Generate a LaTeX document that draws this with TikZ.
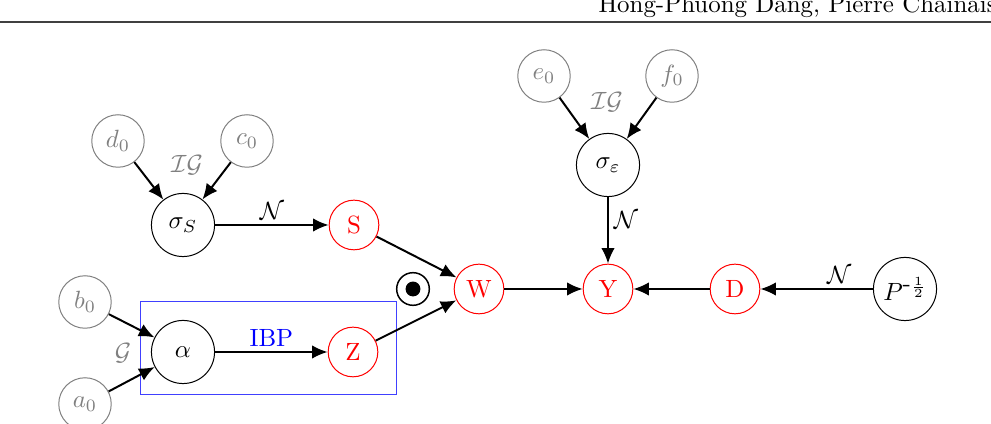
\documentclass[tikz,border=0pt]{standalone}
\usetikzlibrary{positioning, arrows.meta}

\begin{document}
\begin{tikzpicture}[
    x=0.0141cm, y=-0.0141cm,
    var/.style={draw, circle, thin, inner sep=0pt, minimum size=7mm},
    obs/.style={var, red, text=red},
    hyper/.style={var, gray, text=gray, minimum size=7.4mm},
    param/.style={var, minimum size=8.9mm},
    dep/.style={-{Latex[length=2.2mm, width=1.9mm]}, thick},
    lbl/.style={inner sep=2pt},
  ]
    \useasboundingbox (0,0) rectangle (991,424);
    % page header
    \draw[line width=0.5pt, black!75] (0,22) -- (991,22);
    \node[anchor=base west, inner sep=0pt] (head) at (598,13) {Hong-Phuong Dang, Pierre Chainais};
    % hyperparameters
    \node[hyper] (dzero) at (118,141) {$d_0$};
    \node[hyper] (czero) at (247,141) {$c_0$};
    \node[hyper] (ezero) at (544,76)  {$e_0$};
    \node[hyper] (fzero) at (672,76)  {$f_0$};
    \node[hyper] (bzero) at (85,302)  {$b_0$};
    \node[hyper] (azero) at (85,404)  {$a_0$};
    % parameters
    \node[param] (sigS)  at (183,225) {$\sigma_S$};
    \node[param] (sigE)  at (608,165) {$\sigma_{\varepsilon}$};
    \node[param] (alpha) at (183,352) {$\alpha$};
    \node[param] (P)     at (905,289) {$P^{\mbox{-}\frac{1}{2}}$};
    % observed / latent
    \node[obs] (S) at (354,225) {S};
    \node[obs] (Z) at (353,352) {Z};
    \node[obs] (W) at (479,289) {W};
    \node[obs] (Y) at (608,289) {Y};
    \node[obs] (D) at (735,289) {D};
    % product sign
    \node[draw, circle, semithick, inner sep=0pt, minimum size=4.6mm] (prod) at (413,289) {};
    \fill (prod.center) circle (1.05mm);
    % distribution labels
    \node[lbl, gray] (igS) at (187,165) {$\mathcal{IG}$};
    \node[lbl, gray] (igE) at (607,102) {$\mathcal{IG}$};
    \node[lbl, gray] (gA)  at (123,353) {$\mathcal{G}$};
    % IBP box
    \draw[blue!75, thin] (140,302) rectangle (396,395);
    % edges
    \draw[dep] (dzero) -- (sigS);
    \draw[dep] (czero) -- (sigS);
    \draw[dep] (ezero) -- (sigE);
    \draw[dep] (fzero) -- (sigE);
    \draw[dep] (bzero) -- (alpha);
    \draw[dep] (azero) -- (alpha);
    \draw[dep] (sigS) -- node[lbl, above]{$\mathcal{N}$} (S);
    \draw[dep] (alpha) -- node[lbl, above, blue]{IBP} (Z);
    \draw[dep] (S) -- (W);
    \draw[dep] (Z) -- (W);
    \draw[dep] (W) -- (Y);
    \draw[dep] (sigE) -- node[lbl, right, pos=0.35]{$\mathcal{N}$} (Y);
    \draw[dep] (D) -- (Y);
    \draw[dep] (P) -- node[lbl, above, pos=0.3]{$\mathcal{N}$} (D);
\end{tikzpicture}
\end{document}
